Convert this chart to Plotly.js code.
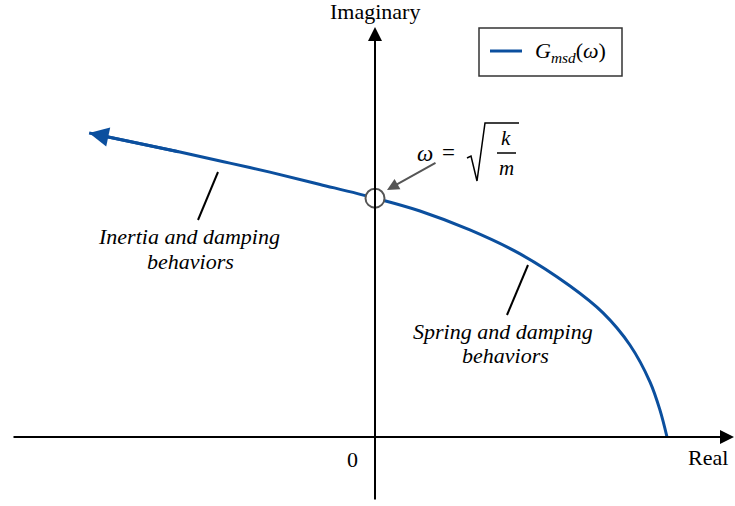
<!DOCTYPE html>
<html>
<head>
<meta charset="utf-8">
<script src="https://cdn.plot.ly/plotly-3.0.1.min.js"></script>
<style>
  html, body { margin: 0; padding: 0; background: #fff; }
  #plot { width: 735px; height: 506px; }
</style>
</head>
<body>
<div id="plot"></div>
<script>
// Frequency response of the mass-spring-damper, normalised so that G(0) = k = 1.
// Points run from ω = 0 (on the real axis) towards large ω (upper left).
const realPart = [1.000, 0.976, 0.942, 0.873, 0.781, 0.668, 0.497, 0.325, 0.154, 0.000, -0.188, -0.360, -0.497, -0.668, -0.979];
const imagPart = [0.000, 0.092, 0.188, 0.315, 0.425, 0.517, 0.627, 0.709, 0.774, 0.818, 0.865, 0.907, 0.938, 0.976, 1.041];

const seriesName = '<i>G</i><sub><i>msd</i></sub>(<i>ω</i>)';
const axisLabels = { real: 'Real', imag: 'Imaginary', origin: '0' };
const inertiaLines = ['<i>Inertia and damping</i>', '<i>behaviors</i>'];
const springLines = ['<i>Spring and damping</i>', '<i>behaviors</i>'];

const W = 735, H = 506;
const FONT = 'Liberation Serif';
const BLUE = '#0b4f9e';
const GREY = '#555555';

// paper-coordinate helpers (margins are zero, so paper == page pixels)
const px = x => x / W;
const py = y => 1 - y / H;

// crossing of the imaginary axis: ω = sqrt(k/m)
const iCross = realPart.indexOf(0);
const n = realPart.length;

const curve = {
  x: realPart, y: imagPart,
  mode: 'lines', type: 'scatter',
  name: seriesName, showlegend: false,
  line: { color: BLUE, width: 3, shape: 'spline', smoothing: 1 },
  hoverinfo: 'skip'
};

const crossing = {
  x: [realPart[iCross]], y: [imagPart[iCross]],
  mode: 'markers', type: 'scatter', showlegend: false,
  marker: { size: 19, color: '#ffffff', line: { color: GREY, width: 2 } },
  hoverinfo: 'skip', cliponaxis: false
};

// plain text placed at page pixel (x, y), centred unless told otherwise
function label(text, x, y, size, extra) {
  return Object.assign({
    xref: 'paper', yref: 'paper', x: px(x), y: py(y), text: text,
    xanchor: 'center', yanchor: 'middle', showarrow: false,
    font: { family: FONT, size: size, color: '#000' }
  }, extra || {});
}

const annotations = [
  // real axis with arrow
  { xref: 'paper', yref: 'paper', x: px(737), y: py(437), ax: px(12), ay: py(437),
    axref: 'paper', ayref: 'paper', showarrow: true, arrowhead: 2, arrowsize: 1.4,
    arrowwidth: 2, arrowcolor: '#000', text: '' },
  // imaginary axis with arrow
  { xref: 'paper', yref: 'paper', x: px(375), y: py(27), ax: px(375), ay: py(501),
    axref: 'paper', ayref: 'paper', showarrow: true, arrowhead: 2, arrowsize: 1.4,
    arrowwidth: 2, arrowcolor: '#000', text: '' },
  // arrowhead at the high-frequency end of the curve
  { x: realPart[n - 1], y: imagPart[n - 1], ax: realPart[n - 2], ay: imagPart[n - 2],
    axref: 'x', ayref: 'y', showarrow: true, arrowhead: 2, arrowsize: 1.3,
    arrowwidth: 3, arrowcolor: BLUE, text: '' },
  // pointer to the axis crossing
  { xref: 'paper', yref: 'paper', x: px(387), y: py(190), ax: px(437), ay: py(162),
    axref: 'paper', ayref: 'paper', showarrow: true, arrowhead: 2, arrowsize: 1.2,
    arrowwidth: 2, arrowcolor: GREY, standoff: 0, text: '' },
  // axis labels
  label(axisLabels.imag, 375, 12, 22),
  label(axisLabels.real, 708, 457, 22),
  label(axisLabels.origin, 352, 459, 22),
  // region labels
  label(inertiaLines[0], 189, 237, 22),
  label(inertiaLines[1], 190, 261, 22),
  label(springLines[0], 503, 331, 22),
  label(springLines[1], 505, 355, 22),
  // ω = sqrt(k/m)
  label('<i>ω</i>', 425, 153, 23),
  label('=', 448, 152, 23),
  label('<i>k</i>', 506, 138, 21),
  label('<i>m</i>', 506, 168, 21),
  // legend entry text
  label(seriesName, 533, 52, 22, { xanchor: 'left' })
];

const shapes = [
  // leader lines for the region labels
  { type: 'line', xref: 'paper', yref: 'paper', x0: px(218), y0: py(172), x1: px(198), y1: py(220),
    line: { color: '#000', width: 2 } },
  { type: 'line', xref: 'paper', yref: 'paper', x0: px(528), y0: py(265), x1: px(507), y1: py(315),
    line: { color: '#000', width: 2 } },
  // radical sign
  { type: 'path', xref: 'paper', yref: 'paper',
    path: `M ${px(467)},${py(158)} L ${px(471)},${py(156)} L ${px(477)},${py(181)} L ${px(485)},${py(123)} L ${px(519)},${py(123)}`,
    line: { color: '#000', width: 1.5 } },
  // fraction bar
  { type: 'line', xref: 'paper', yref: 'paper', x0: px(497), y0: py(153), x1: px(516), y1: py(153),
    line: { color: '#000', width: 1.5 } },
  // legend frame and line sample
  { type: 'rect', xref: 'paper', yref: 'paper', x0: px(479), y0: py(28), x1: px(622), y1: py(76),
    line: { color: '#333', width: 1.5 }, fillcolor: '#fff' },
  { type: 'line', xref: 'paper', yref: 'paper', x0: px(490), y0: py(51), x1: px(522), y1: py(51),
    line: { color: BLUE, width: 3 } }
];

const layout = {
  width: W, height: H,
  margin: { l: 0, r: 0, t: 0, b: 0 },
  paper_bgcolor: '#fff', plot_bgcolor: '#fff',
  xaxis: { range: [(0 - 375) / 292, (W - 375) / 292], visible: false, fixedrange: true },
  yaxis: { range: [(437 - H) / 292, 437 / 292], visible: false, fixedrange: true },
  showlegend: false,
  annotations: annotations,
  shapes: shapes
};

Plotly.newPlot('plot', [curve, crossing], layout, { staticPlot: true, displayModeBar: false });
</script>
</body>
</html>
